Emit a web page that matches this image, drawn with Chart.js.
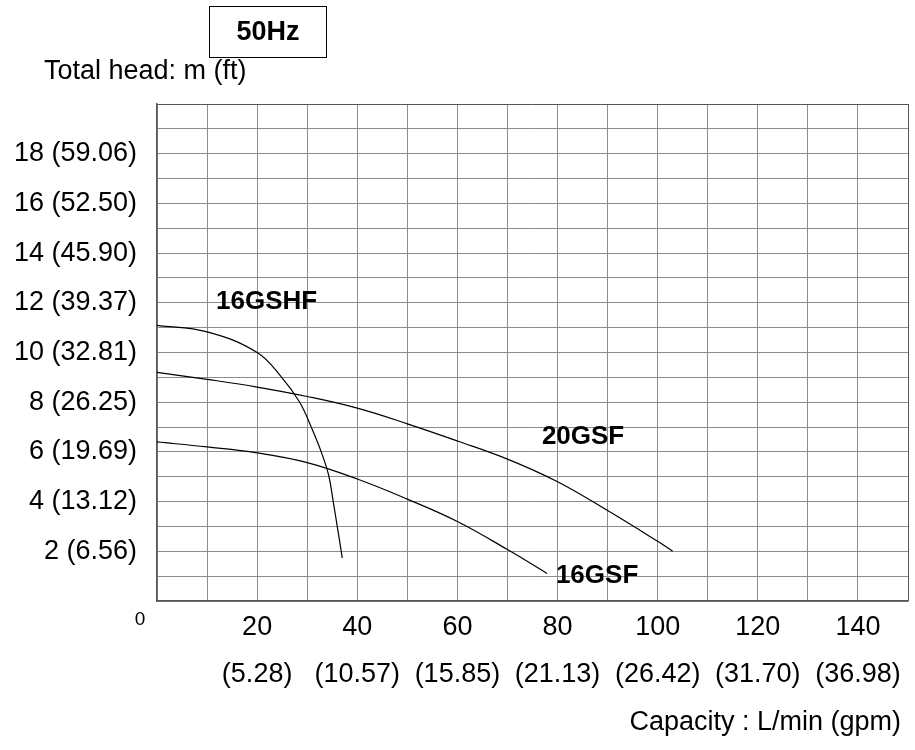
<!DOCTYPE html>
<html>
<head>
<meta charset="utf-8">
<title>50Hz pump curves</title>
<script src="https://cdn.jsdelivr.net/npm/chart.js@4.4.1/dist/chart.umd.min.js"></script>
<style>
  html, body { margin: 0; padding: 0; background: #fff; }
  #wrap { position: relative; width: 915px; height: 750px; }
</style>
</head>
<body>
<div id="wrap"><canvas id="chart"></canvas></div>
<script>
// capacity axis: L/min and the gpm under it
var flowTicks = [20, 40, 60, 80, 100, 120, 140];
var gpmLabels = ['(5.28)', '(10.57)', '(15.85)', '(21.13)', '(26.42)', '(31.70)', '(36.98)'];

// head axis: m (ft)
var headTicks = [2, 4, 6, 8, 10, 12, 14, 16, 18];
var headLabels = ['2 (6.56)', '4 (13.12)', '6 (19.69)', '8 (26.25)', '10 (32.81)',
                  '12 (39.37)', '14 (45.90)', '16 (52.50)', '18 (59.06)'];

// curves (L/min, m)
var q16GSHF = [0, 10, 20, 24.9, 28.5, 30.8, 32.8, 34.3, 35.2, 36.0, 36.8, 37.0];
var h16GSHF = [11.09, 10.83, 10.0, 9.0, 8.0, 7.0, 6.0, 5.05, 4.0, 3.0, 2.0, 1.73];

var q20GSF = [0, 10, 20, 30, 40, 50, 60, 70, 80, 90, 100, 103];
var h20GSF = [9.2, 8.92, 8.61, 8.23, 7.76, 7.13, 6.44, 5.71, 4.8, 3.64, 2.4, 2.0];

var q16GSF = [0, 10, 20, 30, 40, 50, 60, 70, 77.9];
var h16GSF = [6.4, 6.2, 5.96, 5.57, 4.91, 4.1, 3.2, 2.07, 1.11];

var FONT = "'Liberation Sans', Arial, sans-serif";

function pts(q, h) {
    var out = [];
    for (var i = 0; i < q.length; i++) out.push({ x: q[i], y: h[i] });
    return out;
}

function curve(label, q, h) {
    return {
        label: label,
        data: pts(q, h),
        borderColor: '#000',
        borderWidth: 1.2,
        pointRadius: 0,
        tension: 0.4,
        fill: false
    };
}

// texts around the plot: frequency box, axis titles, curve names
var sheetText = {
    id: 'sheetText',
    afterDraw: function (chart) {
        var ctx = chart.ctx;
        var xs = chart.scales.x, ys = chart.scales.y;
        ctx.save();
        ctx.fillStyle = '#000';

        // 50Hz box
        ctx.strokeStyle = '#000';
        ctx.lineWidth = 1;
        ctx.strokeRect(209.5, 6.5, 117, 51);
        ctx.font = 'bold 27px ' + FONT;
        ctx.textAlign = 'center';
        ctx.textBaseline = 'middle';
        ctx.fillText('50Hz', 268, 33);

        ctx.font = '27px ' + FONT;
        ctx.textAlign = 'left';
        ctx.fillText('Total head: m (ft)', 44, 72);

        ctx.textAlign = 'right';
        ctx.fillText('Capacity : L/min (gpm)', 901, 723);

        ctx.font = '19px ' + FONT;
        ctx.textAlign = 'center';
        ctx.fillText('0', 140, 620);

        // curve names
        ctx.font = 'bold 26px ' + FONT;
        ctx.fillText('16GSHF', xs.getPixelForValue(21.9), ys.getPixelForValue(12.03));
        ctx.fillText('20GSF', xs.getPixelForValue(85.1), ys.getPixelForValue(6.6));
        ctx.fillText('16GSF', xs.getPixelForValue(87.9), ys.getPixelForValue(1.0));
        ctx.restore();
    }
};

function gridColor(c) {
    var s = c.scale;
    return c.tick && c.tick.value === s.max ? '#555' : '#8c8c8c';
}

new Chart(document.getElementById('chart'), {
    type: 'line',
    data: {
        datasets: [
            curve('16GSHF', q16GSHF, h16GSHF),
            curve('20GSF', q20GSF, h20GSF),
            curve('16GSF', q16GSF, h16GSF)
        ]
    },
    options: {
        responsive: true,
        maintainAspectRatio: false,
        animation: false,
        layout: { padding: { top: 104, right: 7, left: 0, bottom: 0 } },
        plugins: {
            legend: { display: false },
            tooltip: { enabled: false }
        },
        scales: {
            x: {
                type: 'linear',
                min: 0,
                max: 150,
                afterFit: function (scale) { scale.height = 149; },
                grid: { color: gridColor, lineWidth: 1, drawTicks: false },
                border: { color: '#555', width: 1.5 },
                ticks: {
                    stepSize: 10,
                    autoSkip: false,
                    maxRotation: 0,
                    padding: 3,
                    color: '#000',
                    font: { family: FONT, size: 27, lineHeight: 1.73 },
                    callback: function (v) {
                        var i = flowTicks.indexOf(v);
                        return i < 0 ? '' : [String(flowTicks[i]), gpmLabels[i]];
                    }
                }
            },
            y: {
                type: 'linear',
                min: 0,
                max: 20,
                afterFit: function (scale) { scale.width = 157; },
                grid: { color: gridColor, lineWidth: 1, drawTicks: false },
                border: { color: '#555', width: 1.5 },
                ticks: {
                    stepSize: 1,
                    autoSkip: false,
                    padding: 20,
                    color: '#000',
                    font: { family: FONT, size: 27 },
                    callback: function (v) {
                        var i = headTicks.indexOf(v);
                        return i < 0 ? '' : headLabels[i];
                    }
                }
            }
        }
    },
    plugins: [sheetText]
});
</script>
</body>
</html>
